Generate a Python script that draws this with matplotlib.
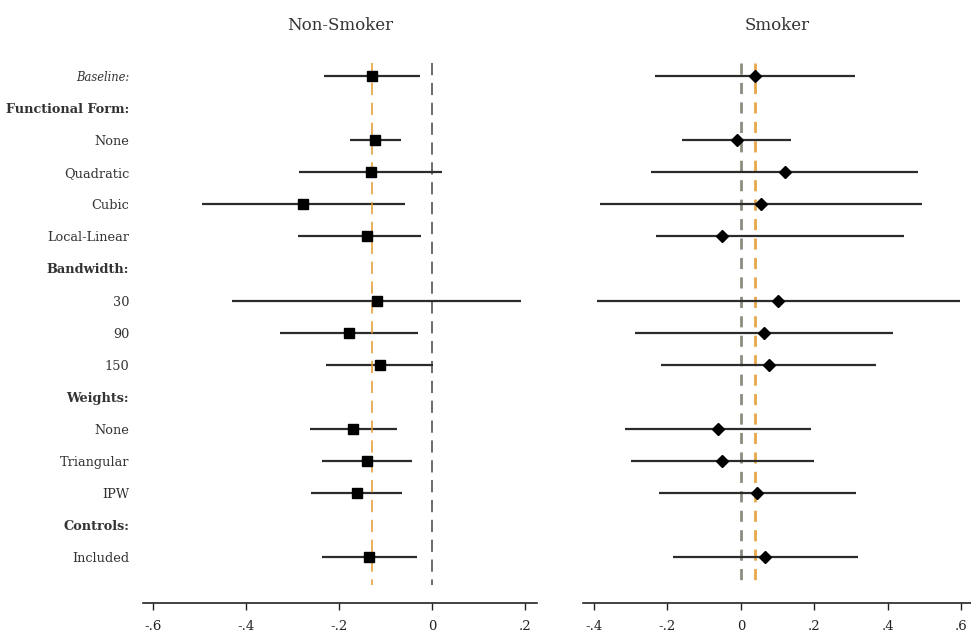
import numpy as np
import matplotlib
matplotlib.use("Agg")
import matplotlib.pyplot as plt

plt.rcParams['font.family'] = ['DejaVu Serif']

# rows, top to bottom (headers have no estimate)
labels = ["Baseline:", "Functional Form:", "None", "Quadratic", "Cubic", "Local-Linear",
          "Bandwidth:", "30", "90", "150", "Weights:", "None", "Triangular", "IPW",
          "Controls:", "Included"]
headers = ["Functional Form:", "Bandwidth:", "Weights:", "Controls:"]

# non-smoker: point, lower, upper (None = header row)
ns_pt = [-0.128, None, -0.122, -0.131, -0.277, -0.140, None, -0.119, -0.178, -0.112,
         None, -0.169, -0.140, -0.162, None, -0.135]
ns_lo = [-0.232, None, -0.177, -0.285, -0.495, -0.287, None, -0.429, -0.326, -0.228,
         None, -0.262, -0.236, -0.259, None, -0.236]
ns_hi = [-0.025, None, -0.066, 0.022, -0.057, -0.023, None, 0.191, -0.031, 0.002,
         None, -0.075, -0.043, -0.065, None, -0.032]

# smoker
sm_pt = [0.039, None, -0.011, 0.120, 0.054, -0.050, None, 0.101, 0.062, 0.076,
         None, -0.062, -0.050, 0.044, None, 0.066]
sm_lo = [-0.233, None, -0.159, -0.244, -0.383, -0.230, None, -0.391, -0.289, -0.218,
         None, -0.316, -0.299, -0.224, None, -0.185]
sm_hi = [0.311, None, 0.138, 0.483, 0.493, 0.445, None, 0.596, 0.414, 0.369,
         None, 0.191, 0.200, 0.313, None, 0.318]

ns_ticks = [-0.6, -0.4, -0.2, 0, 0.2]
sm_ticks = [-0.4, -0.2, 0, 0.2, 0.4, 0.6]

def fmt(v):
    if v == 0:
        return "0"
    s = "%.1f" % v
    return s.replace("0.", ".")

fig = plt.figure(figsize=(9.71, 6.36), dpi=100)
ax1 = fig.add_axes([0.1473, 0.0519, 0.4058, 0.8588])
ax2 = fig.add_axes([0.6004, 0.0519, 0.3996, 0.8588])

def draw(ax, pt, lo, hi, marker, msize, xlim, ticks, title):
    for i in range(len(labels)):
        if pt[i] is None:
            continue
        ax.plot([lo[i], hi[i]], [i, i], color="#2b2b2b", lw=1.6, solid_capstyle="butt", zorder=2)
        ax.plot(pt[i], i, marker=marker, color="black", markersize=msize, zorder=4)
    ax.set_xlim(*xlim)
    ax.set_ylim(16.43, -0.6)
    ax.set_xticks(ticks)
    ax.set_xticklabels([fmt(t) for t in ticks])
    for s in ["top", "right", "left"]:
        ax.spines[s].set_visible(False)
    ax.spines["bottom"].set_linewidth(1.2)
    ax.spines["bottom"].set_color("#222222")
    ax.tick_params(axis="x", length=5, width=1, colors="#222222", labelsize=9.5, pad=7)
    ax.set_title(title, fontsize=12, color="#333333", pad=19)

draw(ax1, ns_pt, ns_lo, ns_hi, "s", 7.5, (-0.621, 0.226), ns_ticks, "Non-Smoker")
draw(ax2, sm_pt, sm_lo, sm_hi, "D", 6.5, (-0.43, 0.627), sm_ticks, "Smoker")

# reference lines: zero and baseline estimate
ax1.vlines(0, -0.4, 15.87, color="#444444", lw=1.1, linestyles=(0, (8, 5)), zorder=1)
ax1.vlines(ns_pt[0], -0.4, 15.87, color="#e39a2d", lw=1.1, linestyles=(0, (8, 5)), zorder=3)
ax2.vlines(0, -0.4, 15.87, color="#8c8c80", lw=2.0, linestyles=(0, (4, 3)), zorder=1)
ax2.vlines(sm_pt[0], -0.4, 15.87, color="#e8a84a", lw=2.0, linestyles=(0, (4, 3)), zorder=1)

ax1.set_yticks(range(len(labels)))
ax1.set_yticklabels(labels)
ax1.tick_params(axis="y", length=0, pad=10, labelsize=9.3, colors="#333333")
for t in ax1.get_yticklabels():
    if t.get_text() in headers:
        t.set_fontweight("bold")
    elif t.get_text() == "Baseline:":
        t.set_fontstyle("italic")
        t.set_fontsize(8.3)
ax2.set_yticks([])

fig.savefig("out.png", dpi=100)
